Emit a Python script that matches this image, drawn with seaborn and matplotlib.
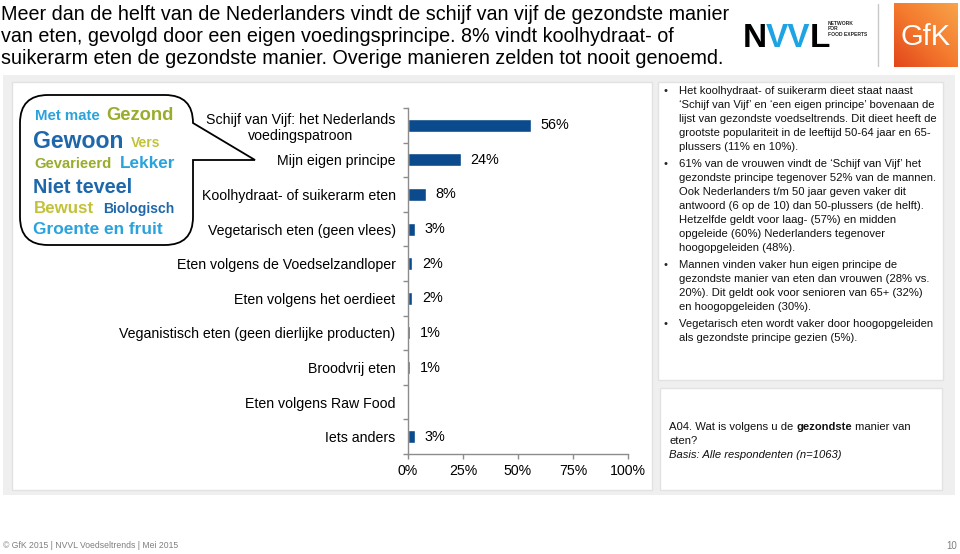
import numpy as np
import pandas as pd
import matplotlib
matplotlib.use("Agg")
import matplotlib.pyplot as plt
from matplotlib.path import Path
from matplotlib.patches import PathPatch, Rectangle
from matplotlib import font_manager
import seaborn as sns

# ---------------- data ----------------
categories = [
    "Schijf van Vijf: het Nederlands\nvoedingspatroon",
    "Mijn eigen principe",
    "Koolhydraat- of suikerarm eten",
    "Vegetarisch eten (geen vlees)",
    "Eten volgens de Voedselzandloper",
    "Eten volgens het oerdieet",
    "Veganistisch eten (geen dierlijke producten)",
    "Broodvrij eten",
    "Eten volgens Raw Food",
    "Iets anders",
]
values = [56, 24, 8, 3, 2, 2, 1, 1, 0, 3]
value_labels = ["56%", "24%", "8%", "3%", "2%", "2%", "1%", "1%", "", "3%"]
x_ticks = [0, 25, 50, 75, 100]
x_tick_labels = ["0%", "25%", "50%", "75%", "100%"]

title_lines = [
    "Meer dan de helft van de Nederlanders vindt de schijf van vijf de gezondste manier",
    "van eten, gevolgd door een eigen voedingsprincipe. 8% vindt koolhydraat- of",
    "suikerarm eten de gezondste manier. Overige manieren zelden tot nooit genoemd.",
]
cloud_words = ["Met mate", "Gezond", "Gewoon", "Vers", "Gevarieerd", "Lekker",
               "Niet teveel", "Bewust", "Biologisch", "Groente en fruit"]
bullets = [
    ["Het koolhydraat- of suikerarm dieet staat naast",
     "‘Schijf van Vijf’ en ‘een eigen principe’ bovenaan de",
     "lijst van gezondste voedseltrends. Dit dieet heeft de",
     "grootste populariteit in de leeftijd 50-64 jaar en 65-",
     "plussers (11% en 10%)."],
    ["61% van de vrouwen vindt de ‘Schijf van Vijf’ het",
     "gezondste principe tegenover 52% van de mannen.",
     "Ook Nederlanders t/m 50 jaar geven vaker dit",
     "antwoord (6 op de 10) dan 50-plussers (de helft).",
     "Hetzelfde geldt voor laag- (57%) en midden",
     "opgeleide (60%) Nederlanders tegenover",
     "hoogopgeleiden (48%)."],
    ["Mannen vinden vaker hun eigen principe de",
     "gezondste manier van eten dan vrouwen (28% vs.",
     "20%). Dit geldt ook voor senioren van 65+ (32%)",
     "en hoogopgeleiden (30%)."],
    ["Vegetarisch eten wordt vaker door hoogopgeleiden",
     "als gezondste principe gezien (5%)."],
]
question_parts = ["A04. Wat is volgens u de ", "gezondste", " manier van"]
question_line2 = "eten?"
basis_text = "Basis: Alle respondenten (n=1063)"
footer_text = "© GfK 2015 | NVVL Voedseltrends | Mei 2015"
page_number = "10"

# ---------------- style ----------------
sns.set_theme(style="white")
plt.rcParams["font.family"] = ["Liberation Sans", "DejaVu Sans"]

installed = {f.name for f in font_manager.fontManager.ttflist}
narrow = ["Liberation Sans Narrow", "Liberation Sans", "DejaVu Sans"] \
    if "Liberation Sans Narrow" in installed else ["Liberation Sans", "DejaVu Sans"]
footer_size = 7.0 if "Liberation Sans Narrow" in installed else 6.2

W, H = 960, 554
fig = plt.figure(figsize=(W / 100, H / 100), dpi=100)
fig.patch.set_facecolor("white")

bg = fig.add_axes([0, 0, 1, 1], zorder=0)
bg.set_xlim(0, W)
bg.set_ylim(H, 0)
bg.axis("off")

# panels
bg.add_patch(Rectangle((3, 75), 952, 420, fc="#efefef", ec="none"))
bg.add_patch(Rectangle((12, 82), 640, 408, fc="white", ec="#e2e2e2", lw=1))
bg.add_patch(Rectangle((658, 82), 285, 298, fc="white", ec="#e2e2e2", lw=1))
bg.add_patch(Rectangle((660, 388), 282, 102, fc="white", ec="#e2e2e2", lw=1))

# title
for i, line in enumerate(title_lines):
    bg.text(1, 14 + i * 22.5, line, fontsize=14.2, color="black",
            va="center", ha="left")

# logos
renderer = fig.canvas.get_renderer()

def put_seq(x, y, parts, kern=0.0, **kw):
    for txt, extra in parts:
        t = bg.text(x, y, txt, **kw, **extra)
        bb = t.get_window_extent(renderer=renderer)
        x += bb.width + kern
    return x

put_seq(743, 47, [("N", {"color": "black"}), ("VV", {"color": "#1ea3e3"}), ("L", {"color": "black"})],
        kern=-1.0, fontsize=24, fontweight="black", va="baseline", ha="left")
bg.text(828, 29, "NETWORK\nFOR\nFOOD EXPERTS", fontsize=3.6, fontweight="bold",
        va="center", ha="left", linespacing=1.1)
bg.plot([878, 878], [4, 66], color="#c8c8c8", lw=1)
grad = np.linspace(0, 1, 64)
gx, gy = np.meshgrid(grad, grad)
g = (gx + (1 - gy)) / 2
cmap = matplotlib.colors.LinearSegmentedColormap.from_list("gfk", ["#e2461c", "#f47a2e", "#f8a34a"])
bg.imshow(g, cmap=cmap, extent=[894, 958, 67, 3], aspect="auto", zorder=1)
bg.text(926, 37, "GfK", fontsize=21, color="white", ha="center", va="center", zorder=2)

# speech bubble
L_, R_, T_, B_, r = 20, 193, 95, 245, 28
verts = [(L_ + r, T_), (R_ - r, T_), (R_, T_), (R_, T_ + r), (255, 160), (R_, 160),
         (R_, B_ - r), (R_, B_), (R_ - r, B_), (L_ + r, B_), (L_, B_), (L_, B_ - r),
         (L_, T_ + r), (L_, T_), (L_ + r, T_), (L_ + r, T_)]
codes = [Path.MOVETO, Path.LINETO, Path.CURVE3, Path.CURVE3, Path.LINETO, Path.LINETO,
         Path.LINETO, Path.CURVE3, Path.CURVE3, Path.LINETO, Path.CURVE3, Path.CURVE3,
         Path.LINETO, Path.CURVE3, Path.CURVE3, Path.CLOSEPOLY]
bg.add_patch(PathPatch(Path(verts, codes), fc="white", ec="black", lw=1.3, zorder=3))

lb, ol, db, yl = "#2aa3dc", "#9aac2c", "#1d67aa", "#c2c23a"
cloud_style = [  # x, baseline, size, color
    (35, 120, 10.8, lb), (106, 120, 13.2, ol), (33, 148, 16.6, db), (131, 147, 10, yl),
    (34, 168, 10.6, ol), (120, 168, 12.3, lb), (33, 193, 14.3, db), (34, 213, 12.2, yl),
    (103, 213, 10.1, db), (33, 234, 12.4, lb),
]
for w, (x, y, s, c) in zip(cloud_words, cloud_style):
    bg.text(x, y, w, fontsize=s, color=c, fontweight="bold", va="baseline", ha="left", zorder=4)

# bullets text
y = 91
for para in bullets:
    bg.text(663, y, "•", fontsize=8, va="center", ha="left")
    for line in para:
        bg.text(679, y, line, fontsize=8.1, va="center", ha="left", color="#111111")
        y += 14
    y += 3

# question box
xq = 669
for i, p in enumerate(question_parts):
    t = bg.text(xq, 427, p, fontsize=8.1, va="center", ha="left",
                fontweight="bold" if i == 1 else "normal", color="#111111")
    xq += t.get_window_extent(renderer=renderer).width
bg.text(669, 441, question_line2, fontsize=8.1, va="center", ha="left", color="#111111")
bg.text(669, 455, basis_text, fontsize=8.1, va="center", ha="left", style="italic", color="#111111")

# footer
bg.text(3, 546, footer_text, fontsize=footer_size, color="#7f7f7f", va="center", ha="left",
        family=narrow)
bg.text(957, 546, page_number, fontsize=footer_size + 0.8, color="#7f7f7f", va="center", ha="right",
        family=narrow)

# ---------------- bar chart ----------------
ax = fig.add_axes([408 / W, 1 - 454 / H, 220 / W, 346 / H], zorder=2)
ax.set_facecolor("none")
df = pd.DataFrame({"category": categories, "value": values})
sns.barplot(data=df, y="category", x="value", orient="h", color="#0b4a8c",
            saturation=1, width=0.38, ax=ax)
ax.set_xlim(0, 100)
ax.set_ylim(len(categories) - 0.5, -0.5)
ax.set_xlabel("")
ax.set_ylabel("")
ax.set_xticks(x_ticks, x_tick_labels)
ax.set_yticks(range(len(categories)), categories)
ax.set_yticks(np.arange(-0.5, len(categories), 1), minor=True)
ax.tick_params(axis="y", which="major", length=0, pad=9, labelsize=10.2, labelcolor="black")
ax.tick_params(axis="y", which="minor", length=3.5, width=1, color="#8c8c8c", left=True)
ax.tick_params(axis="x", length=3.5, width=1, color="#8c8c8c", pad=4, labelsize=10.2,
               labelcolor="black", bottom=True)
for lab in ax.get_yticklabels():
    if "\n" in lab.get_text():
        lab.set_multialignment("center")
for side in ["top", "right"]:
    ax.spines[side].set_visible(False)
for side in ["left", "bottom"]:
    ax.spines[side].set_color("#8c8c8c")
    ax.spines[side].set_linewidth(1)
ax.grid(False)
ax.bar_label(ax.containers[0], labels=value_labels, padding=7, fontsize=10.4, color="black")

fig.savefig("out.png", dpi=100)
